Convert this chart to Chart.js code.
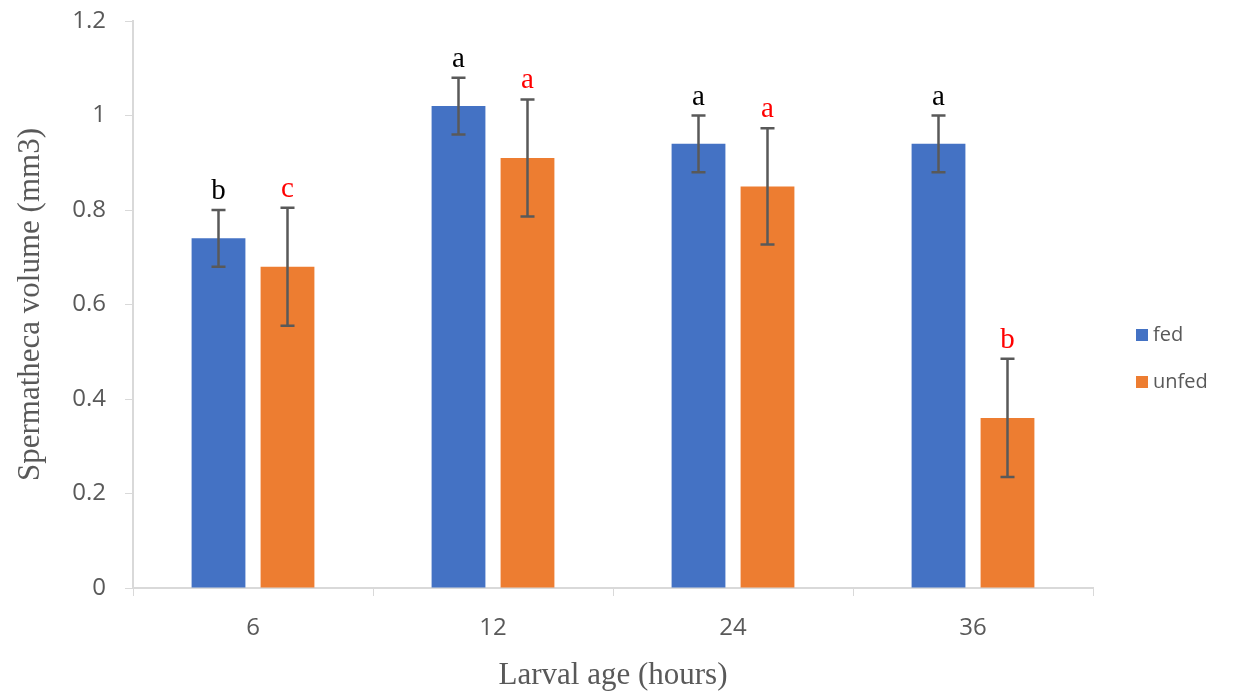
<!DOCTYPE html>
<html>
<head>
<meta charset="utf-8">
<script src="https://cdn.jsdelivr.net/npm/chart.js@4"></script>
<style>
  html, body { margin: 0; padding: 0; background: #fff; }
  #wrap { width: 1233px; height: 694px; }
</style>
</head>
<body>
<div id="wrap"><canvas id="myChart" width="1233" height="694"></canvas></div>
<script>
var ages = ['6', '12', '24', '36'];
var fedMeans = [0.74, 1.02, 0.94, 0.94];
var unfedMeans = [0.68, 0.91, 0.85, 0.36];
var fedErr = [0.06, 0.06, 0.06, 0.06];
var unfedErr = [0.125, 0.124, 0.123, 0.125];
var fedLetters = ['b', 'a', 'a', 'a'];
var unfedLetters = ['c', 'a', 'a', 'b'];

var errs = [fedErr, unfedErr];
var letters = [fedLetters, unfedLetters];
var letterColors = ['#000000', '#ff0000'];

// error bars + significance letters
var errorBars = {
  id: 'errorBars',
  afterDatasetsDraw: function (chart) {
    var c = chart.ctx;
    var y = chart.scales.y;
    chart.data.datasets.forEach(function (ds, i) {
      var meta = chart.getDatasetMeta(i);
      meta.data.forEach(function (bar, j) {
        var v = ds.data[j];
        var top = y.getPixelForValue(v + errs[i][j]);
        var bot = y.getPixelForValue(v - errs[i][j]);
        c.save();
        c.strokeStyle = '#595959';
        c.lineWidth = 2.5;
        c.beginPath();
        c.moveTo(bar.x, top); c.lineTo(bar.x, bot);
        c.moveTo(bar.x - 7, top); c.lineTo(bar.x + 7, top);
        c.moveTo(bar.x - 7, bot); c.lineTo(bar.x + 7, bot);
        c.stroke();
        c.fillStyle = letterColors[i];
        c.font = '29px "Liberation Serif", serif';
        c.textAlign = 'center';
        c.textBaseline = 'alphabetic';
        c.fillText(letters[i][j], bar.x, top - 11);
        c.restore();
      });
    });
  }
};

// legend on the right, drawn by hand
var sideLegend = {
  id: 'sideLegend',
  afterDraw: function (chart) {
    var c = chart.ctx;
    var ys = [335, 382];
    chart.data.datasets.forEach(function (ds, i) {
      c.save();
      c.fillStyle = ds.backgroundColor;
      c.fillRect(1136, ys[i] - 6, 12, 12);
      c.fillStyle = '#595959';
      c.font = '20px "Open Sans", sans-serif';
      c.textBaseline = 'middle';
      c.fillText(ds.label, 1153, ys[i]);
      c.restore();
    });
  }
};

var ctx = document.getElementById('myChart').getContext('2d');
var myChart = new Chart(ctx, {
  type: 'bar',
  data: {
    labels: ages,
    datasets: [{
      label: 'fed',
      data: fedMeans,
      backgroundColor: '#4472c4'
    }, {
      label: 'unfed',
      data: unfedMeans,
      backgroundColor: '#ed7d31'
    }]
  },
  options: {
    responsive: false,
    animation: false,
    categoryPercentage: 0.575,
    barPercentage: 0.78,
    layout: { padding: { top: 0, right: 140, left: 0, bottom: 0 } },
    plugins: {
      legend: { display: false },
      tooltip: { enabled: false }
    },
    scales: {
      x: {
        grid: { offset: true, drawOnChartArea: false, tickLength: 8, color: '#d9d9d9' },
        border: { color: '#d9d9d9', width: 2 },
        ticks: { color: '#595959', font: { size: 24, family: '"Open Sans", sans-serif' }, padding: 18 },
        title: {
          display: true,
          text: 'Larval age (hours)',
          color: '#595959',
          font: { size: 31, family: '"Liberation Serif", serif' },
          padding: { top: 2, bottom: 0 }
        },
        afterFit: function (s) { s.height = 106; }
      },
      y: {
        min: 0,
        max: 1.2,
        grid: { drawOnChartArea: false, tickLength: 8, color: '#d9d9d9' },
        border: { color: '#d9d9d9', width: 2 },
        ticks: {
          stepSize: 0.2,
          color: '#595959',
          padding: 19,
          font: { size: 24, family: '"Open Sans", sans-serif' },
          callback: function (v) { return +v.toFixed(1); }
        },
        title: {
          display: true,
          text: 'Spermatheca volume (mm3)',
          color: '#595959',
          font: { size: 31, family: '"Liberation Serif", serif' },
          padding: { top: 12, bottom: 10 }
        },
        afterFit: function (s) { s.width = 133; s.paddingTop = 21; }
      }
    }
  },
  plugins: [errorBars, sideLegend]
});
</script>
</body>
</html>
